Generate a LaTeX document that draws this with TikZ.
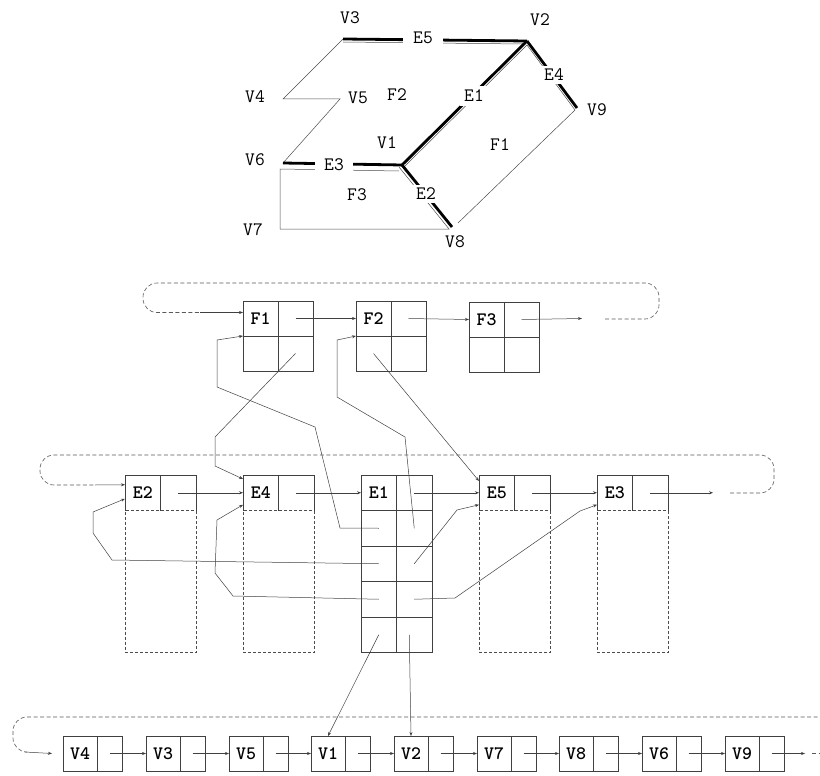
\documentclass[tikz,border=0pt]{standalone}
\usetikzlibrary{positioning,calc,arrows.meta}

\begin{document}
\begin{tikzpicture}[x=1pt,y=-1pt]

\tikzstyle{heavy}=[line width=2.8pt];
\tikzstyle{light}=[line width=0.5pt,black!70];
\tikzstyle{vlbl}=[font=\fontsize{19}{19}\selectfont\ttfamily,inner sep=1pt];
\tikzstyle{elbl}=[vlbl,fill=white,inner sep=3pt];
\tikzstyle{cell}=[draw=black!75,line width=0.6pt,minimum width=35pt,minimum height=35pt,inner sep=0pt,outer sep=0pt,anchor=north west,font=\fontsize{19}{19}\selectfont\ttfamily\bfseries];
\tikzstyle{ecell}=[cell,draw=none,minimum width=35.5pt,minimum height=35.5pt];
\tikzstyle{eone}=[cell,minimum width=35.5pt,minimum height=35.5pt];
\tikzstyle{body}=[draw=black!70,line width=0.6pt,dash pattern=on 3pt off 2pt,minimum width=71pt,minimum height=142pt,inner sep=0pt,outer sep=0pt,anchor=north west];
\tikzstyle{vcell}=[cell,minimum width=34pt];
\tikzstyle{vptr}=[cell,minimum width=25pt];
\tikzstyle{box}=[draw=black!75,line width=0.6pt];
\tikzstyle{ptr}=[-{Stealth[length=4pt,width=3pt]},line width=0.5pt,black!75];
\tikzstyle{loopline}=[line width=0.6pt,black!65,dash pattern=on 4pt off 2.5pt,rounded corners=14pt];

\useasboundingbox (0,0) rectangle (820,776);

% the planar map
\coordinate (p1) at (402,165);
\coordinate (p2) at (527,41);
\coordinate (p3) at (343,39);
\coordinate (p4) at (283,99);
\coordinate (p5) at (340,99);
\coordinate (p6) at (283,163);
\coordinate (p7) at (280,229);
\coordinate (p8) at (452,227);
\coordinate (p9) at (577,108);

\draw[light] (p3) -- (p4) -- (p5) -- (p6);
\draw[light] ($(p3)+(0,3)$) -- ($(p2)+(-4,3)$);
\draw[light] ($(p1)+(2,2)$) -- ($(p2)+(0,4)$) -- ($(p9)+(-2,2)$) -- ($(p8)+(6,-4)$);
\draw[light] ($(p1)+(-3,6)$) -- ($(p6)+(-3,6)$) -- (p7) -- ($(p8)+(-3,2)$) -- ($(p1)+(-3,2)$);

\draw[heavy] (p3) -- (p2);
\draw[heavy] (p1) -- (p2);
\draw[heavy] (p2) -- (p9);
\draw[heavy] (p6) -- (p1);
\draw[heavy] (p1) -- (p8);

\node[elbl,inner xsep=10pt] (le5) at (423,38) {E5};
\node[elbl,inner sep=4pt] (le1) at (474,96) {E1};
\node[elbl] (le4) at (554,75) {E4};
\node[elbl,inner xsep=9pt] (le3) at (334,165) {E3};
\node[elbl] (le2) at (426,194) {E2};

\node[vlbl] (lv1) at (387,143) {V1};
\node[vlbl] (lv2) at (540,20) {V2};
\node[vlbl] (lv3) at (350,18) {V3};
\node[vlbl] (lv4) at (255,97) {V4};
\node[vlbl] (lv5) at (358,98) {V5};
\node[vlbl] (lv6) at (255,160) {V6};
\node[vlbl] (lv7) at (253,230) {V7};
\node[vlbl] (lv8) at (455,242) {V8};
\node[vlbl] (lv9) at (597,110) {V9};
\node[vlbl] (lf1) at (500,145) {F1};
\node[vlbl] (lf2) at (397,95) {F2};
\node[vlbl] (lf3) at (357,195) {F3};

% face records
\node[cell] (f1) at (243,301) {F1};
\node[cell,right=0pt of f1] (f1n) {};
\node[cell,below=0pt of f1] (f1a) {};
\node[cell,right=0pt of f1a] (f1b) {};
\node[cell] (f2) at (356,301) {F2};
\node[cell,right=0pt of f2] (f2n) {};
\node[cell,below=0pt of f2] (f2a) {};
\node[cell,right=0pt of f2a] (f2b) {};
\node[cell] (f3) at (469,302) {F3};
\node[cell,right=0pt of f3] (f3n) {};
\node[cell,below=0pt of f3] (f3a) {};
\node[cell,right=0pt of f3a] (f3b) {};

\coordinate (fnil) at (582,318.5);
\coordinate (floop) at (200,312.5);
\draw[ptr] (f1n.center) -- (f2.west);
\draw[ptr] (f2n.center) -- (f3.west);
\draw[ptr] (f3n.center) -- (fnil);
\draw[loopline] (605,319) -- (659,319) -- (659,283) -- (143,283) -- (143,312.5) -- (floop);
\draw[ptr] (floop) -- ([yshift=6pt]f1.west);

% edge records
\node[ecell] (e2) at (125,475) {E2};
\node[ecell,right=0pt of e2] (e2n) {};
\node[body] (e2b) at (e2.south west) {};
\draw[box] (e2.south west) |- (e2n.north east) -- (e2n.south east);
\draw[box] (e2n.north west) -- (e2n.south west);
\node[ecell] (e4) at (243,475) {E4};
\node[ecell,right=0pt of e4] (e4n) {};
\node[body] (e4b) at (e4.south west) {};
\draw[box] (e4.south west) |- (e4n.north east) -- (e4n.south east);
\draw[box] (e4n.north west) -- (e4n.south west);
\node[eone] (e1) at (361,475) {E1};
\node[eone,right=0pt of e1] (e1n) {};
\node[eone,below=0pt of e1] (e1l1) {};
\node[eone,right=0pt of e1l1] (e1r1) {};
\node[eone,below=0pt of e1l1] (e1l2) {};
\node[eone,right=0pt of e1l2] (e1r2) {};
\node[eone,below=0pt of e1l2] (e1l3) {};
\node[eone,right=0pt of e1l3] (e1r3) {};
\node[eone,below=0pt of e1l3] (e1l4) {};
\node[eone,right=0pt of e1l4] (e1r4) {};
\node[ecell] (e5) at (479,475) {E5};
\node[ecell,right=0pt of e5] (e5n) {};
\node[body] (e5b) at (e5.south west) {};
\draw[box] (e5.south west) |- (e5n.north east) -- (e5n.south east);
\draw[box] (e5n.north west) -- (e5n.south west);
\node[ecell] (e3) at (597,475) {E3};
\node[ecell,right=0pt of e3] (e3n) {};
\node[body] (e3b) at (e3.south west) {};
\draw[box] (e3.south west) |- (e3n.north east) -- (e3n.south east);
\draw[box] (e3n.north west) -- (e3n.south west);

\coordinate (enil) at (713,492.75);
\coordinate (eloop) at (95,485);
\draw[ptr] (e2n.center) -- (e4.west);
\draw[ptr] (e4n.center) -- (e1.west);
\draw[ptr] (e1n.center) -- (e5.west);
\draw[ptr] (e5n.center) -- (e3.west);
\draw[ptr] (e3n.center) -- (enil);
\draw[loopline] (730,493) -- (774,493) -- (774,455) -- (40,455) -- (40,485) -- (eloop);
\draw[ptr] (eloop) -- ([yshift=8pt]e2.west);

% face pointers
\draw[ptr] (e1l1.center) -- (340,528) -- (315,427) -- (217,387) -- (217,340) -- (f1a.north west);
\draw[ptr] (e1r1.center) -- (405,437) -- (337,397) -- (337,340) -- (f2a.north west);
\draw[ptr] (f1b.center) -- (215,437) -- (215,466) -- ([yshift=-4pt]e4.north west);
\draw[ptr] (f2a.center) -- ([yshift=-6pt]e5.north west);
% edge pointers
\draw[ptr] (e1l2.center) -- (112,560) -- (93,533) -- (93,512) -- ([yshift=-6pt]e2.west);
\draw[ptr] (e1l3.center) -- (233,596) -- (215,573) -- (217,520) -- ([yshift=-12pt]e4.west);
\draw[ptr] (e1r2.center) -- (457,510) -- ([yshift=-12pt]e5.west);
\draw[ptr] (e1r3.center) -- (455,598) -- (580,511) -- ([yshift=-12pt]e3.west);

% vertex records
\node[vcell] (v4) at (63,736) {V4};
\node[vptr,right=0pt of v4] (v4n) {};
\node[vcell] (v3) at (146,736) {V3};
\node[vptr,right=0pt of v3] (v3n) {};
\node[vcell] (v5) at (229,736) {V5};
\node[vptr,right=0pt of v5] (v5n) {};
\node[vcell] (v1) at (311,736) {V1};
\node[vptr,right=0pt of v1] (v1n) {};
\node[vcell] (v2) at (394,736) {V2};
\node[vptr,right=0pt of v2] (v2n) {};
\node[vcell] (v7) at (477,736) {V7};
\node[vptr,right=0pt of v7] (v7n) {};
\node[vcell] (v8) at (559,736) {V8};
\node[vptr,right=0pt of v8] (v8n) {};
\node[vcell] (v6) at (642,736) {V6};
\node[vptr,right=0pt of v6] (v6n) {};
\node[vcell] (v9) at (725,736) {V9};
\node[vptr,right=0pt of v9] (v9n) {};

\coordinate (vnil) at (805,753.5);
\coordinate (vloop) at (25,752);
\draw[ptr] (v4n.center) -- (v3.west);
\draw[ptr] (v3n.center) -- (v5.west);
\draw[ptr] (v5n.center) -- (v1.west);
\draw[ptr] (v1n.center) -- (v2.west);
\draw[ptr] (v2n.center) -- (v7.west);
\draw[ptr] (v7n.center) -- (v8.west);
\draw[ptr] (v8n.center) -- (v6.west);
\draw[ptr] (v6n.center) -- (v9.west);
\draw[ptr] (v9n.center) -- (vnil);
\draw[loopline] (812,753.5) -- (824,753.5);
\draw[loopline] (824,717) -- (13,717) -- (13,752) -- (vloop);
\draw[ptr] (vloop) -- ([xshift=-11pt]v4.west);

% vertex pointers
\draw[ptr] (e1l4.center) -- (v1.north);
\draw[ptr] ([xshift=-5pt]e1r4.center) -- (v2.north);

\end{tikzpicture}
\end{document}
